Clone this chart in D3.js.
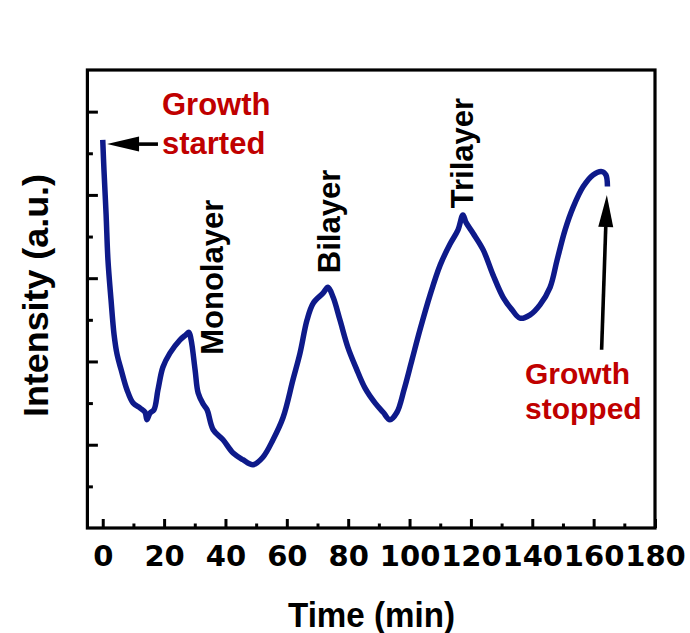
<!DOCTYPE html>
<html>
<head>
<meta charset="utf-8">
<script src="https://cdn.jsdelivr.net/npm/d3@7"></script>
<style>
  body { margin: 0; background: #fff; }
  text { font-family: "Liberation Sans", Arial, sans-serif; font-weight: bold; }
</style>
</head>
<body>
<div id="chart"></div>
<script>
// time (min) and intensity (a.u.)
const timeMin = [0, 0.4, 1.1, 1.7, 2.7, 3.7, 4.7, 6.0, 7.9, 9.9, 12.2, 13.8, 14.4, 15.4, 16.7, 18.0, 19.6, 21.9, 25.2, 27.1, 28.1, 28.8,
  30.1, 31.1, 32.7, 34.0, 36.0, 39.2, 42.5, 45.7, 49.0, 52.2, 55.5, 58.8, 62.0, 64.3, 66.6, 68.6, 71.8, 73.4, 75.1, 77.3, 79.9,
  82.6, 85.5, 88.8, 91.4, 93.6, 95.9, 98.2, 100.8, 103.4, 106.7, 110.0, 113.2, 115.8, 117.4, 118.4, 120.7, 124.0, 127.2, 130.5,
  133.4, 136.0, 139.3, 142.5, 145.8, 148.1, 150.7, 153.3, 156.6, 159.8, 162.7, 164.0, 164.5];
const intensity = [4.66, 4.30, 3.76, 3.22, 2.74, 2.32, 2.08, 1.90, 1.66, 1.50, 1.44, 1.39, 1.30, 1.38, 1.42, 1.66, 1.93, 2.10, 2.26, 2.32, 2.35, 2.26,
  1.90, 1.62, 1.49, 1.42, 1.18, 1.06, 0.90, 0.82, 0.76, 0.85, 1.06, 1.33, 1.78, 2.10, 2.50, 2.70, 2.82, 2.89, 2.77, 2.50, 2.17,
  1.92, 1.68, 1.50, 1.39, 1.30, 1.39, 1.66, 2.02, 2.38, 2.80, 3.16, 3.41, 3.58, 3.76, 3.67, 3.54, 3.34, 3.04, 2.77,
  2.62, 2.52, 2.56, 2.68, 2.89, 3.22, 3.58, 3.85, 4.10, 4.24, 4.28, 4.24, 4.10];

const xMajorTicks = [0, 20, 40, 60, 80, 100, 120, 140, 160, 180];
const xMinorTicks = [10, 30, 50, 70, 90, 110, 130, 150, 170];
const yMajorTicks = [1, 2, 3, 4, 5];
const yMinorTicks = [0.5, 1.5, 2.5, 3.5, 4.5];

// peak labels (rotated), anchored at time / intensity
const layerLabels = [
  { text: "Monolayer", t: 39.3, v: 2.08 },
  { text: "Bilayer", t: 77.4, v: 3.06 },
  { text: "Trilayer", t: 120.7, v: 3.84 }
];

const width = 690, height = 633;

const svg = d3.select("#chart").append("svg")
  .attr("width", width)
  .attr("height", height);

const x = d3.scaleLinear().domain([-5, 180]).range([87.4, 655]);
const y = d3.scaleLinear().domain([0, 5.5]).range([528, 70]);

// frame
svg.append("rect")
  .attr("x", x(-5)).attr("y", y(5.5))
  .attr("width", x(180) - x(-5)).attr("height", y(0) - y(5.5))
  .attr("fill", "none").attr("stroke", "#000").attr("stroke-width", 3.2);

// x axis: major + minor ticks pointing inward
const xMajor = svg.append("g").attr("transform", "translate(0," + y(0) + ")")
  .call(d3.axisBottom(x).tickValues(xMajorTicks).tickSize(-9).tickSizeOuter(0));
xMajor.select(".domain").remove();
xMajor.selectAll("line").attr("stroke-width", 3);
xMajor.selectAll("text")
  .attr("y", 38).attr("dy", 0)
  .style("font-family", "'DejaVu Sans', sans-serif")
  .style("font-weight", "bold")
  .style("font-size", "29px")
  .attr("fill", "#000");

const xMinor = svg.append("g").attr("transform", "translate(0," + y(0) + ")")
  .call(d3.axisBottom(x).tickValues(xMinorTicks).tickSize(-4.5).tickFormat(""));
xMinor.select(".domain").remove();
xMinor.selectAll("line").attr("stroke-width", 3);

// y axis ticks (no labels)
const yMajor = svg.append("g").attr("transform", "translate(" + x(-5) + ",0)")
  .call(d3.axisLeft(y).tickValues(yMajorTicks).tickSize(-10.5).tickFormat(""));
yMajor.select(".domain").remove();
yMajor.selectAll("line").attr("stroke-width", 3);

const yMinor = svg.append("g").attr("transform", "translate(" + x(-5) + ",0)")
  .call(d3.axisLeft(y).tickValues(yMinorTicks).tickSize(-5.5).tickFormat(""));
yMinor.select(".domain").remove();
yMinor.selectAll("line").attr("stroke-width", 3);

// data curve
const line = d3.line()
  .x((d, i) => x(timeMin[i]))
  .y(d => y(d))
  .curve(d3.curveCatmullRom.alpha(0.5));

svg.append("path")
  .datum(intensity)
  .attr("d", line)
  .attr("fill", "none")
  .attr("stroke", "#0e1a8a")
  .attr("stroke-width", 5.5)
  .attr("stroke-linejoin", "round");

// axis titles
svg.append("text")
  .attr("x", 288).attr("y", 627)
  .attr("textLength", 167).attr("lengthAdjust", "spacingAndGlyphs")
  .style("font-size", "35px")
  .text("Time (min)");

svg.append("text")
  .attr("transform", "translate(48,417) rotate(-90)")
  .attr("textLength", 243).attr("lengthAdjust", "spacingAndGlyphs")
  .style("font-size", "35px")
  .text("Intensity (a.u.)");

// layer labels
svg.selectAll(".layer")
  .data(layerLabels)
  .enter()
  .append("text")
  .attr("class", "layer")
  .attr("transform", d => "translate(" + x(d.t) + "," + y(d.v) + ") rotate(-90)")
  .style("font-size", "31px")
  .attr("fill", "#000")
  .text(d => d.text);

// arrows
function arrow(t1, v1, t2, v2) {
  // from (t1,v1) tail to (t2,v2) tip
  const x1 = x(t1), y1 = y(v1), x2 = x(t2), y2 = y(v2);
  const ang = Math.atan2(y2 - y1, x2 - x1);
  const headLen = 32, headHalf = 7.5;
  const bx = x2 - headLen * Math.cos(ang), by = y2 - headLen * Math.sin(ang);
  svg.append("line")
    .attr("x1", x1).attr("y1", y1).attr("x2", bx).attr("y2", by)
    .attr("stroke", "#000").attr("stroke-width", 3.6);
  const px = -Math.sin(ang) * headHalf, py = Math.cos(ang) * headHalf;
  svg.append("polygon")
    .attr("points", [[x2, y2], [bx + px, by + py], [bx - px, by - py]].map(p => p.join(",")).join(" "))
    .attr("fill", "#000");
}
arrow(18.0, 4.61, 1.4, 4.61);
arrow(162.6, 2.14, 164.3, 4.0);

// red annotations
const red = "#c00000";
const notes = [
  { text: "Growth", x: 162, y: 115, size: 31 },
  { text: "started", x: 162, y: 154, size: 31 },
  { text: "Growth", x: 525, y: 384, size: 30 },
  { text: "stopped", x: 525, y: 419, size: 30 }
];
svg.selectAll(".note")
  .data(notes)
  .enter()
  .append("text")
  .attr("class", "note")
  .attr("x", d => d.x).attr("y", d => d.y)
  .style("font-size", d => d.size + "px")
  .attr("fill", red)
  .text(d => d.text);
</script>
</body>
</html>
